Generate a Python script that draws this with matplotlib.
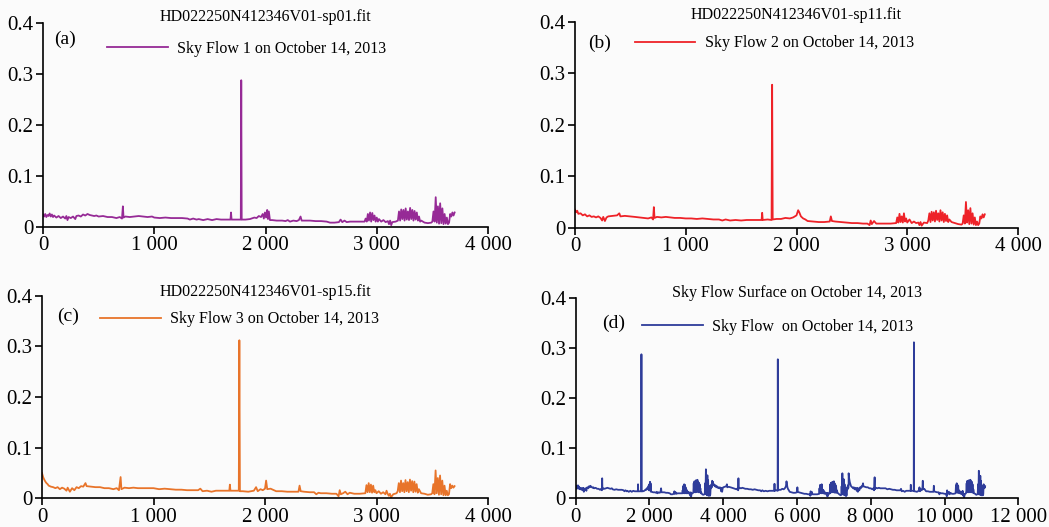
import matplotlib
matplotlib.use("Agg")
import matplotlib.pyplot as plt
import numpy as np

plt.rcParams['font.family'] = ['Liberation Serif', 'DejaVu Serif']

# ---------------- data ----------------
SP01 = [(0,0.024),(10,0.020),(20,0.025),(30,0.019),(40,0.023),(50,0.021),(60,0.026),(70,0.020),(80,0.024),(90,0.019),(100,0.022),
        (120,0.018),(140,0.021),(160,0.017),(180,0.020),(200,0.016),(210,0.021),(220,0.013),(230,0.019),(250,0.017),(270,0.020),(290,0.015),(300,0.021),
        (320,0.022),(340,0.020),(360,0.024),(380,0.022),(400,0.025),(420,0.023),(440,0.022),(460,0.021),(480,0.022),(500,0.020),
        (540,0.021),(580,0.019),(620,0.019),(660,0.017),(690,0.019),(710,0.016),(718,0.040),(724,0.018),(740,0.020),(780,0.019),(820,0.020),
        (860,0.021),(900,0.020),(940,0.019),(980,0.020),(1000,0.018),(1050,0.017),(1100,0.018),(1150,0.017),(1200,0.017),(1250,0.017),
        (1300,0.016),(1320,0.014),(1350,0.016),(1380,0.014),(1400,0.015),(1440,0.013),(1480,0.015),(1520,0.013),(1560,0.015),(1600,0.014),
        (1640,0.014),(1685,0.014),(1690,0.028),(1695,0.014),(1740,0.014),(1778,0.014),(1782,0.288),(1786,0.014),(1820,0.014),(1860,0.015),
        (1900,0.018),(1920,0.017),(1940,0.021),(1960,0.019),(1975,0.025),(1985,0.016),(1995,0.028),(2005,0.018),(2015,0.033),(2022,0.015),
        (2030,0.030),(2040,0.013),(2060,0.013),(2100,0.012),(2150,0.012),(2180,0.011),(2200,0.013),(2220,0.010),(2250,0.012),(2280,0.011),
        (2300,0.013),(2315,0.020),(2325,0.012),(2350,0.012),(2400,0.012),(2450,0.011),(2500,0.011),(2550,0.010),(2580,0.008),(2620,0.008),
        (2660,0.009),(2675,0.014),(2690,0.009),(2710,0.012),(2730,0.009),(2760,0.010),(2800,0.010),(2850,0.010),(2890,0.010),(2900,0.016),
        (2910,0.010),(2920,0.025),(2930,0.012),(2940,0.028),(2950,0.010),(2960,0.027),(2970,0.013),(2980,0.022),(2990,0.010),(3000,0.018),
        (3010,0.010),(3020,0.015),(3040,0.010),(3060,0.013),(3080,0.009),(3100,0.011),(3110,0.005),(3120,0.012),(3130,0.003),(3140,0.009),
        (3170,0.010),(3190,0.012),(3200,0.030),(3210,0.012),(3220,0.034),(3230,0.015),(3240,0.033),(3250,0.012),(3260,0.036),(3270,0.014),
        (3280,0.030),(3290,0.013),(3300,0.037),(3310,0.015),(3320,0.033),(3330,0.012),(3340,0.031),(3350,0.014),(3360,0.028),(3370,0.012),
        (3380,0.020),(3390,0.010),(3400,0.012),(3430,0.008),(3460,0.007),(3490,0.008),(3500,0.010),(3510,0.030),(3520,0.010),(3530,0.058),
        (3540,0.008),(3550,0.040),(3560,0.006),(3570,0.046),(3580,0.007),(3590,0.036),(3600,0.005),(3610,0.025),(3620,0.006),(3630,0.018),
        (3640,0.005),(3650,0.008),(3660,0.025),(3670,0.020),(3680,0.028),(3690,0.022),(3700,0.028)]

SP11 = [(0,0.035),(10,0.030),(20,0.033),(30,0.027),(50,0.028),(70,0.024),(90,0.026),(110,0.022),(130,0.024),(150,0.021),(170,0.022),
        (190,0.020),(210,0.022),(230,0.019),(245,0.014),(255,0.021),(270,0.013),(285,0.020),(300,0.022),(340,0.023),(380,0.024),(400,0.028),
        (410,0.022),(450,0.023),(500,0.022),(540,0.021),(580,0.020),(620,0.019),(660,0.018),(690,0.020),(705,0.016),(712,0.040),(718,0.019),
        (740,0.021),(780,0.020),(820,0.021),(860,0.020),(900,0.019),(950,0.019),(1000,0.018),(1050,0.018),(1100,0.017),(1150,0.018),
        (1200,0.017),(1250,0.016),(1300,0.016),(1330,0.014),(1360,0.016),(1400,0.014),(1450,0.015),(1500,0.014),(1550,0.015),(1600,0.015),
        (1650,0.015),(1685,0.015),(1690,0.029),(1695,0.015),(1740,0.016),(1775,0.015),(1780,0.278),(1785,0.016),(1820,0.017),(1860,0.017),
        (1900,0.019),(1940,0.018),(1970,0.020),(2000,0.024),(2015,0.034),(2025,0.030),(2040,0.022),(2060,0.018),(2080,0.016),(2100,0.013),
        (2150,0.012),(2200,0.011),(2250,0.011),(2300,0.012),(2310,0.022),(2320,0.013),(2350,0.012),(2400,0.011),(2450,0.010),(2500,0.009),
        (2550,0.009),(2600,0.008),(2640,0.008),(2660,0.005),(2670,0.014),(2680,0.007),(2700,0.013),(2720,0.008),(2750,0.008),(2800,0.008),
        (2850,0.008),(2900,0.009),(2910,0.020),(2920,0.010),(2930,0.027),(2940,0.011),(2950,0.022),(2960,0.010),(2970,0.028),(2980,0.012),
        (2990,0.018),(3000,0.010),(3020,0.016),(3040,0.009),(3060,0.012),(3080,0.009),(3100,0.010),(3110,0.005),(3120,0.011),(3130,0.004),
        (3150,0.010),(3180,0.009),(3190,0.014),(3200,0.028),(3210,0.011),(3220,0.031),(3230,0.014),(3240,0.030),(3250,0.012),(3260,0.033),
        (3270,0.015),(3280,0.028),(3290,0.012),(3300,0.034),(3310,0.014),(3320,0.030),(3330,0.011),(3340,0.027),(3350,0.013),(3360,0.024),
        (3370,0.011),(3380,0.016),(3400,0.011),(3430,0.009),(3460,0.007),(3490,0.006),(3500,0.008),(3510,0.024),(3520,0.008),(3530,0.050),
        (3540,0.010),(3550,0.034),(3560,0.007),(3570,0.038),(3580,0.008),(3590,0.028),(3600,0.006),(3610,0.020),(3620,0.005),(3630,0.012),
        (3640,0.005),(3650,0.008),(3660,0.022),(3670,0.018),(3680,0.026),(3690,0.020),(3700,0.026)]

SP15 = [(0,0.050),(10,0.042),(20,0.037),(30,0.033),(40,0.030),(50,0.028),(60,0.025),(80,0.023),(100,0.022),(120,0.020),(140,0.022),
        (160,0.018),(180,0.021),(200,0.019),(220,0.015),(230,0.021),(250,0.013),(270,0.020),(290,0.016),(310,0.022),(330,0.020),(350,0.024),
        (370,0.023),(390,0.030),(400,0.024),(440,0.023),(480,0.022),(520,0.022),(560,0.020),(600,0.020),(640,0.018),(670,0.020),(690,0.016),
        (705,0.042),(712,0.018),(740,0.021),(780,0.020),(820,0.021),(860,0.020),(900,0.020),(950,0.020),(1000,0.020),(1050,0.018),(1100,0.019),
        (1150,0.018),(1200,0.017),(1250,0.017),(1300,0.016),(1350,0.016),(1400,0.016),(1420,0.019),(1440,0.014),(1480,0.015),(1520,0.013),
        (1560,0.015),(1600,0.015),(1650,0.015),(1680,0.015),(1685,0.027),(1690,0.015),(1740,0.015),(1765,0.015),(1770,0.312),(1775,0.014),
        (1800,0.014),(1850,0.013),(1900,0.015),(1920,0.022),(1935,0.014),(1960,0.018),(1980,0.016),(2000,0.019),(2010,0.035),(2020,0.018),
        (2050,0.019),(2080,0.016),(2100,0.014),(2150,0.014),(2200,0.013),(2250,0.013),(2300,0.013),(2310,0.025),(2320,0.014),(2350,0.013),
        (2400,0.012),(2440,0.012),(2460,0.008),(2480,0.011),(2500,0.010),(2550,0.010),(2600,0.009),(2640,0.009),(2660,0.004),(2670,0.016),
        (2680,0.008),(2700,0.010),(2720,0.013),(2740,0.008),(2760,0.011),(2800,0.009),(2850,0.009),(2900,0.010),(2910,0.026),(2920,0.012),
        (2930,0.030),(2940,0.012),(2950,0.027),(2960,0.011),(2970,0.025),(2980,0.012),(2990,0.016),(3000,0.010),(3020,0.014),(3040,0.009),
        (3060,0.012),(3080,0.008),(3090,0.015),(3100,0.009),(3110,0.005),(3120,0.009),(3130,0.002),(3150,0.008),(3180,0.010),(3190,0.014),
        (3200,0.030),(3210,0.012),(3220,0.035),(3230,0.014),(3240,0.030),(3250,0.012),(3260,0.036),(3270,0.014),(3280,0.032),(3290,0.012),
        (3300,0.037),(3310,0.015),(3320,0.034),(3330,0.012),(3340,0.033),(3350,0.013),(3360,0.028),(3370,0.011),(3380,0.018),(3400,0.010),
        (3430,0.009),(3460,0.007),(3490,0.008),(3500,0.010),(3510,0.028),(3520,0.008),(3530,0.055),(3540,0.010),(3550,0.040),(3560,0.007),
        (3570,0.045),(3580,0.008),(3590,0.035),(3600,0.006),(3610,0.025),(3620,0.006),(3630,0.015),(3640,0.006),(3650,0.008),(3660,0.028),
        (3670,0.020),(3680,0.025),(3690,0.021),(3700,0.024)]

# surface = the three fibres placed one after another
SURFACE_OFFSETS = [0, 3700, 7400]

TITLES = ["HD022250N412346V01-sp01.fit", "HD022250N412346V01-sp11.fit",
          "HD022250N412346V01-sp15.fit", "Sky Flow Surface on October 14, 2013"]
LEGENDS = ["Sky Flow 1 on October 14, 2013", "Sky Flow 2 on October 14, 2013",
           "Sky Flow 3 on October 14, 2013", "Sky Flow  on October 14, 2013"]
PANEL_LABELS = ["(a)", "(b)", "(c)", "(d)"]
COLORS = ["#962a96", "#ee2228", "#e8742a", "#2e3c9a"]
XTICKS_SMALL = [0, 1000, 2000, 3000, 4000]
XTICKS_SMALL_LBL = ["0", "1 000", "2 000", "3 000", "4 000"]
XTICKS_BIG = [0, 2000, 4000, 6000, 8000, 10000, 12000]
XTICKS_BIG_LBL = ["0", "2 000", "4 000", "6 000", "8 000", "10 000", "12 000"]
YTICKS = [0, 0.1, 0.2, 0.3, 0.4]
YTICKS_LBL = ["0", "0.1", "0.2", "0.3", "0.4"]

# ---------------- figure ----------------
W, H = 1049, 527
fig = plt.figure(figsize=(W / 100, H / 100), dpi=100, facecolor="#fbfbfb")

def px_axes(left, top, right, bottom):
    return fig.add_axes([left / W, 1 - bottom / H, (right - left) / W, (bottom - top) / H])

boxes = [(43, 23.3, 488, 226.7), (575, 22, 1018, 227.7), (42, 295.7, 488, 498.3), (575.7, 298.3, 1018.3, 498.3)]
title_pos = [(265.5, 17), (796.5, 15), (265.3, 292.3), (797, 293.3)]
leg_anchor = [(0.144, 0.874), (0.135, 0.896), (0.130, 0.883), (0.150, 0.858)]
lab_pos = [(0.025, 0.923), (0.029, 0.896), (0.034, 0.900), (0.059, 0.875)]

def xy(data, off=0):
    return [p[0] + off for p in data], [p[1] for p in data]

series = [xy(SP01), xy(SP11), xy(SP15)]
sx, sy = [], []
for d, off in zip([SP01, SP11, SP15], SURFACE_OFFSETS):
    x, y = xy(d, off)
    sx += x
    sy += y
series.append((sx, sy))

for i in range(4):
    ax = px_axes(*boxes[i])
    ax.set_facecolor("none")
    x, y = series[i]
    ax.plot(x, y, color=COLORS[i], lw=1.3, label=LEGENDS[i])
    if i < 3:
        ax.set_xlim(0, 4000)
        ax.set_xticks(XTICKS_SMALL)
        ax.set_xticklabels(XTICKS_SMALL_LBL)
    else:
        ax.set_xlim(0, 12000)
        ax.set_xticks(XTICKS_BIG)
        ax.set_xticklabels(XTICKS_BIG_LBL)
    ax.set_ylim(0, 0.4)
    ax.set_yticks(YTICKS)
    ax.set_yticklabels(YTICKS_LBL)
    for s in ["top", "right"]:
        ax.spines[s].set_visible(False)
    for s in ["left", "bottom"]:
        ax.spines[s].set_linewidth(1.2)
        ax.spines[s].set_color("black")
    ax.tick_params(axis="both", direction="out", length=5, width=1.2, labelsize=15, pad=2)
    leg = ax.legend(loc="center left", bbox_to_anchor=leg_anchor[i], frameon=False,
                    fontsize=11.5, handlelength=3.8, handletextpad=0.6, borderpad=0, borderaxespad=0)
    ax.text(lab_pos[i][0], lab_pos[i][1], PANEL_LABELS[i], transform=ax.transAxes,
            ha="left", va="center", fontsize=14)
    fig.text(title_pos[i][0] / W, 1 - title_pos[i][1] / H, TITLES[i], ha="center", va="center", fontsize=11.5)

fig.savefig("out.png", dpi=100, facecolor=fig.get_facecolor())
